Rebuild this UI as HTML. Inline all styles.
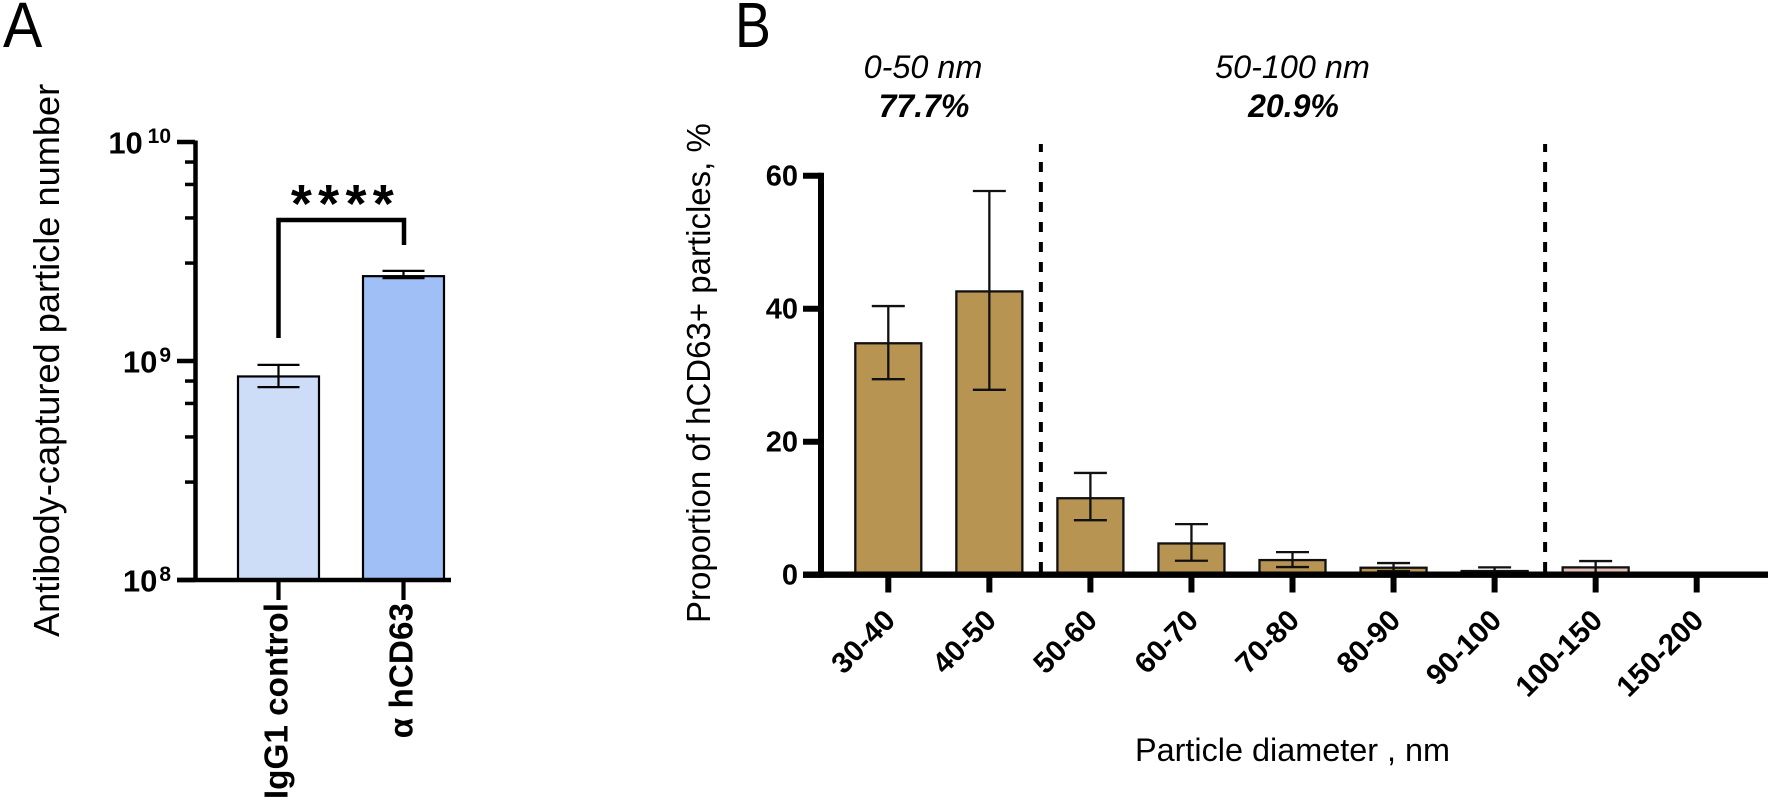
<!DOCTYPE html>
<html>
<head>
<meta charset="utf-8">
<title>Particle charts</title>
<style>
html,body{margin:0;padding:0;background:#fff;width:1772px;height:798px;overflow:hidden}
svg{display:block}
text{font-family:"Liberation Sans",Arial,sans-serif;fill:#000}
</style>
</head>
<body>
<svg id="fig" xmlns="http://www.w3.org/2000/svg" width="1772" height="798" viewBox="0 0 1772 798">
  <text transform="translate(3,47) scale(0.92,1)" font-size="64">A</text>
  <text transform="translate(735,47) scale(0.84,1)" font-size="64">B</text>
  <text transform="translate(59,637) rotate(-90)" font-size="36.2">Antibody-captured particle number</text>
  <text transform="translate(710,623) rotate(-90)" font-size="33">Proportion of hCD63+ particles, %</text>
  <text x="1135" y="761" font-size="32.4">Particle diameter , nm</text>
  <text x="923" y="78" font-size="32.4" font-style="italic" text-anchor="middle">0-50 nm</text>
  <text x="924" y="117" font-size="32" font-style="italic" font-weight="bold" text-anchor="middle">77.7%</text>
  <text x="1292.5" y="78" font-size="32.4" font-style="italic" text-anchor="middle">50-100 nm</text>
  <text x="1293.5" y="117" font-size="32" font-style="italic" font-weight="bold" text-anchor="middle">20.9%</text>
  <g id="chartA"></g>
  <g id="chartB"></g>
</svg>
<script>
// Panel A data
const aCategories = ['IgG1 control', 'α hCD63'];
const aValues = [8.5e8, 2.44e9];
const aErrHigh = [9.6e8, 2.58e9];
const aErrLow = [7.6e8, 2.39e9];
const aExponents = [8, 9, 10];
const aMinorMultipliers = [2.8, 4.5, 6.4, 8.1];
const aSignificance = '****';
// Panel B data
const bCategories = ['30-40', '40-50', '50-60', '60-70', '70-80', '80-90', '90-100', '100-150', '150-200'];
const bValues = [34.8, 42.6, 11.5, 4.7, 2.2, 1.05, 0.55, 1.1, 0.1];
const bErrHigh = [40.4, 57.7, 15.3, 7.6, 3.4, 1.75, 1.1, 2.05, 0.2];
const bErrLow = [29.4, 27.8, 8.2, 2.1, 1.15, 0.55, 0.05, 0.3, 0];
const bTicks = [0, 20, 40, 60];
const bDividers = [1.5, 6.49];

const NS = 'http://www.w3.org/2000/svg';
function make(parent, tag, attrs, txt) {
  const el = document.createElementNS(NS, tag);
  for (const k in attrs) el.setAttribute(k, attrs[k]);
  if (txt !== undefined) el.textContent = txt;
  parent.appendChild(el);
  return el;
}
function line(parent, x1, y1, x2, y2, w, color) {
  return make(parent, 'line', {x1: x1, y1: y1, x2: x2, y2: y2, stroke: color || '#000', 'stroke-width': w});
}

// ---------- Panel A ----------
const gA = document.getElementById('chartA');
const aY = v => 580 - (Math.log10(v) - 8) * 219;
const aX = i => 278.5 + i * 125;
const aFills = ['#CDDDF7', '#A0BFF6'];
aCategories.forEach((c, i) => {
  const bar = make(gA, 'rect', {x: aX(i) - 40.5, y: aY(aValues[i]), width: 81, height: 580 - aY(aValues[i]), fill: aFills[i], stroke: '#000', 'stroke-width': 2.2});
  
  
  const err = make(gA, 'g', {});
  
  
  line(err, aX(i), aY(aErrHigh[i]), aX(i), aY(aErrLow[i]), 2.2);
  line(err, aX(i) - 21, aY(aErrHigh[i]), aX(i) + 21, aY(aErrHigh[i]), 2.2);
  line(err, aX(i) - 21, aY(aErrLow[i]), aX(i) + 21, aY(aErrLow[i]), 2.2);
  const tick = line(gA, aX(i), 580, aX(i), 600, 4.2);
  
  
  const lab = make(gA, 'text', {transform: 'translate(' + (aX(i) + 9) + ',603) rotate(-90)', 'font-size': 33.3, 'font-weight': 'bold', 'text-anchor': 'end'}, c);
  
  
});
const aYAxis = line(gA, 195.5, 140.5, 195.5, 582, 4.5);


const aXAxis = line(gA, 177, 580, 451, 580, 4.5);


aExponents.forEach((e, idx) => {
  const v = Math.pow(10, e);
  const t = line(gA, 177, aY(v), 195, aY(v), 4.5);
  
  
  const expText = String(e);
  const supRight = 171;
  const supWidth = expText.length * 11.6;
  const supGap = expText.length === 1 ? 2 : 5;
  const lab = make(gA, 'text', {x: supRight - supWidth - supGap, y: aY(v) + 11.5, 'font-size': 31, 'font-weight': 'bold', 'text-anchor': 'end'}, '10');
  
  
  const sup = make(gA, 'text', {x: supRight, y: aY(v) + 1, 'font-size': 21, 'font-weight': 'bold', 'text-anchor': 'end'}, expText);
  
  
  if (idx < aExponents.length - 1) {
    aMinorMultipliers.forEach(m => {
      const mt = line(gA, 185, aY(m * v), 195, aY(m * v), 3.5);
      
      
    });
  }
});
const bracket = make(gA, 'path', {d: 'M' + aX(0) + ' 338 V220 H' + (aX(1) + 0.5) + ' V245', fill: 'none', stroke: '#000', 'stroke-width': 4.5});


const stars = make(gA, 'text', {x: 345.5, y: 222, 'font-size': 54, 'font-weight': 'bold', 'text-anchor': 'middle', 'letter-spacing': 6.3}, aSignificance);



// ---------- Panel B ----------
const gB = document.getElementById('chartB');
const bY = v => 574.7 - v * 6.65;
const bX = i => 888.3 + i * 101.05;
bCategories.forEach((c, i) => {
  const bar = make(gB, 'rect', {x: bX(i) - 33, y: bY(bValues[i]), width: 66, height: 574.7 - bY(bValues[i]), fill: i === 7 ? '#E3BFB6' : '#B89453', stroke: '#111', 'stroke-width': 2.3});
  
  
  const err = make(gB, 'g', {});
  
  
  line(err, bX(i), bY(bErrHigh[i]), bX(i), bY(bErrLow[i]), 2.3, '#111');
  line(err, bX(i) - 16.5, bY(bErrHigh[i]), bX(i) + 16.5, bY(bErrHigh[i]), 2.3, '#111');
  line(err, bX(i) - 16.5, bY(bErrLow[i]), bX(i) + 16.5, bY(bErrLow[i]), 2.3, '#111');
  const tick = line(gB, bX(i), 574, bX(i), 592.5, 6);
  
  
  const lab = make(gB, 'text', {transform: 'translate(' + (bX(i) + 8.5) + ',622) rotate(-45)', 'font-size': 29.5, 'font-weight': 'bold', 'text-anchor': 'end'}, c);
  
  
});
bDividers.forEach((d, i) => {
  const x = bX(d);
  const dl = make(gB, 'line', {x1: x + 1, y1: 144, x2: x + 1, y2: 574, stroke: '#000', 'stroke-width': 4, 'stroke-dasharray': '10 10', 'stroke-dashoffset': 2});
  
  
});
const bYAxis = line(gB, 821, 172.7, 821, 577.7, 6);


const bXAxis = line(gB, 803, 574.7, 1768, 574.7, 6.4);


bTicks.forEach(t => {
  const tk = line(gB, 803, bY(t), 821, bY(t), 6);
  
  
  const lab = make(gB, 'text', {x: 798, y: bY(t) + 10, 'font-size': 29, 'font-weight': 'bold', 'text-anchor': 'end'}, String(t));
  
  
});
</script>
</body>
</html>
